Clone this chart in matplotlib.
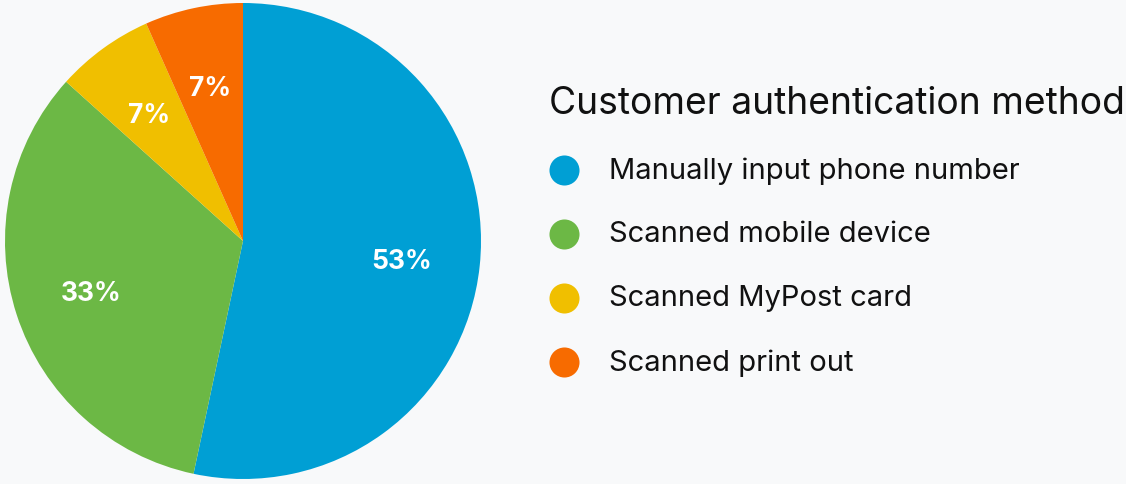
import matplotlib
matplotlib.use("Agg")
import matplotlib.pyplot as plt

categories = ["Manually input phone number", "Scanned mobile device",
              "Scanned MyPost card", "Scanned print out"]
values = [8, 5, 1, 1]
colors = ["#009fd4", "#6cb845", "#f0bf00", "#f76b00"]
legend_title = "Customer authentication method"

W, H = 1126, 484
bg = "#f8f9fa"
plt.rcParams['font.family'] = ['Inter', 'DejaVu Sans']

fig = plt.figure(figsize=(W / 100, H / 100), dpi=100, facecolor=bg)
ax = fig.add_axes([0, 0, 1, 1])
ax.set_facecolor(bg)
ax.set_xlim(0, W)
ax.set_ylim(0, H)
ax.set_aspect('equal')
ax.axis('off')

wedges, texts, autotexts = ax.pie(
    values, colors=colors, startangle=90, counterclock=False,
    center=(243, H - 241), radius=238, autopct='%1.0f%%', pctdistance=0.67,
    wedgeprops=dict(linewidth=0), textprops=dict(color='white', fontsize=19, fontweight='bold'))
for t in autotexts:
    x, y = t.get_position()
    t.set_position((x, y - 4))
ax.set_xlim(0, W)
ax.set_ylim(0, H)

ax.text(549, H - 104, legend_title, fontsize=26.8, color='#111111', va='center', ha='left')
ys = [170, 234, 298, 362]
for cat, col, y in zip(categories, colors, ys):
    ax.scatter([564], [H - y], s=30 ** 2 * 0.52, color=col, linewidths=0)
    ax.text(609, H - y - 1, cat, fontsize=21, color='#111111', va='center', ha='left')

fig.savefig("out.png", dpi=100, facecolor=bg)
